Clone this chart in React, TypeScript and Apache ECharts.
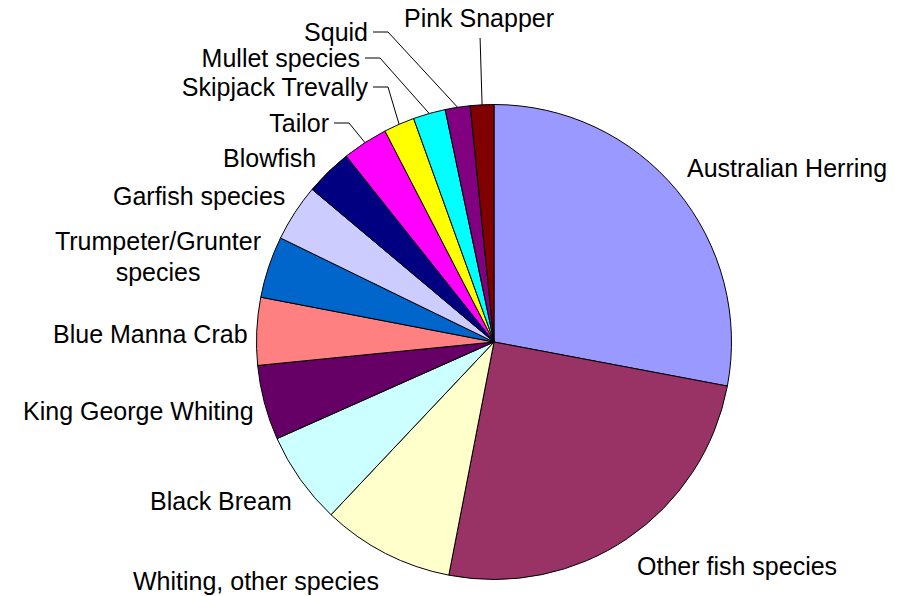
import React, { useEffect, useRef } from 'react';
import * as echarts from 'echarts';

const categories = [
  'Australian Herring',
  'Other fish species',
  'Whiting, other species',
  'Black Bream',
  'King George Whiting',
  'Blue Manna Crab',
  'Trumpeter/Grunter species',
  'Garfish species',
  'Blowfish',
  'Tailor',
  'Skipjack Trevally',
  'Mullet species',
  'Squid',
  'Pink Snapper',
];

const values = [28.0, 25.1, 9.0, 6.3, 5.1, 4.6, 4.2, 3.9, 3.2, 3.1, 2.1, 2.2, 1.7, 1.6];

const colors = [
  '#9999FF', '#993366', '#FFFFCC', '#CCFFFF', '#660066', '#FF8080', '#0066CC',
  '#CCCCFF', '#000080', '#FF00FF', '#FFFF00', '#00FFFF', '#800080', '#800000',
];

const FONT = '"Liberation Sans", Arial, Helvetica, sans-serif';
const CX = 494;
const CY = 342;
const R = 237.5;

type Anchor = { x: number; y: number; align: 'left' | 'right' | 'center'; line?: 'side' | 'up' };
const labelAnchors: Anchor[] = [
  { x: 687, y: 168, align: 'left' },
  { x: 637, y: 566, align: 'left' },
  { x: 133, y: 581, align: 'left' },
  { x: 150, y: 501, align: 'left' },
  { x: 23, y: 411, align: 'left' },
  { x: 53, y: 334, align: 'left' },
  { x: 158, y: 256, align: 'center' },
  { x: 113, y: 196, align: 'left' },
  { x: 223, y: 158, align: 'left' },
  { x: 329, y: 123, align: 'right', line: 'side' },
  { x: 368, y: 87, align: 'right', line: 'side' },
  { x: 360, y: 58, align: 'right', line: 'side' },
  { x: 368, y: 32, align: 'right', line: 'side' },
  { x: 479, y: 18, align: 'center', line: 'up' },
];

export default function App() {
  const ref = useRef<HTMLDivElement>(null);
  useEffect(() => {
    document.body.style.margin = '0';
    const chart = echarts.init(ref.current as HTMLDivElement, null, { renderer: 'svg' });
    const total = values.reduce((a, b) => a + b, 0);
    const arcPoints: number[][] = [];
    let cum = 0;
    values.forEach((v) => {
      const mid = (cum + v / 2) / total * 2 * Math.PI;
      arcPoints.push([CX + R * Math.sin(mid), CY - R * Math.cos(mid)]);
      cum += v;
    });
    chart.setOption({
      animation: false,
      backgroundColor: '#ffffff',
      series: [
        {
          type: 'pie',
          center: [CX, CY],
          radius: R,
          startAngle: 90,
          clockwise: true,
          avoidLabelOverlap: false,
          emphasis: { disabled: true },
          itemStyle: { borderColor: '#000000', borderWidth: 1 },
          label: {
            show: true,
            position: 'outside',
            color: '#000000',
            fontSize: 25,
            fontFamily: FONT,
            lineHeight: 31,
            formatter: (p: any) => String(p.name).replace('Trumpeter/Grunter ', 'Trumpeter/Grunter\n'),
          },
          labelLine: { show: true, length: 10, length2: 10, lineStyle: { color: '#000000', width: 1 } },
          data: categories.map((name, i) => ({
            name,
            value: values[i],
            itemStyle: { color: colors[i] },
            labelLine: { show: !!labelAnchors[i].line },
          })),
          labelLayout: (params: any) => {
            const i = params.dataIndex;
            const a = labelAnchors[i];
            const res: any = { x: a.x, y: a.y, align: a.align, verticalAlign: 'middle' };
            if (a.line === 'side') {
              const start = a.x + 5;
              res.labelLinePoints = [arcPoints[i], [start + 15, a.y], [start, a.y]];
            } else if (a.line === 'up') {
              res.labelLinePoints = [arcPoints[i], [arcPoints[i][0] - 2, a.y + 20]];
            }
            return res;
          },
        },
      ],
    });
    return () => chart.dispose();
  }, []);
  return <div ref={ref} style={{ position: 'absolute', left: 0, top: 0, width: 898, height: 596 }} />;
}
